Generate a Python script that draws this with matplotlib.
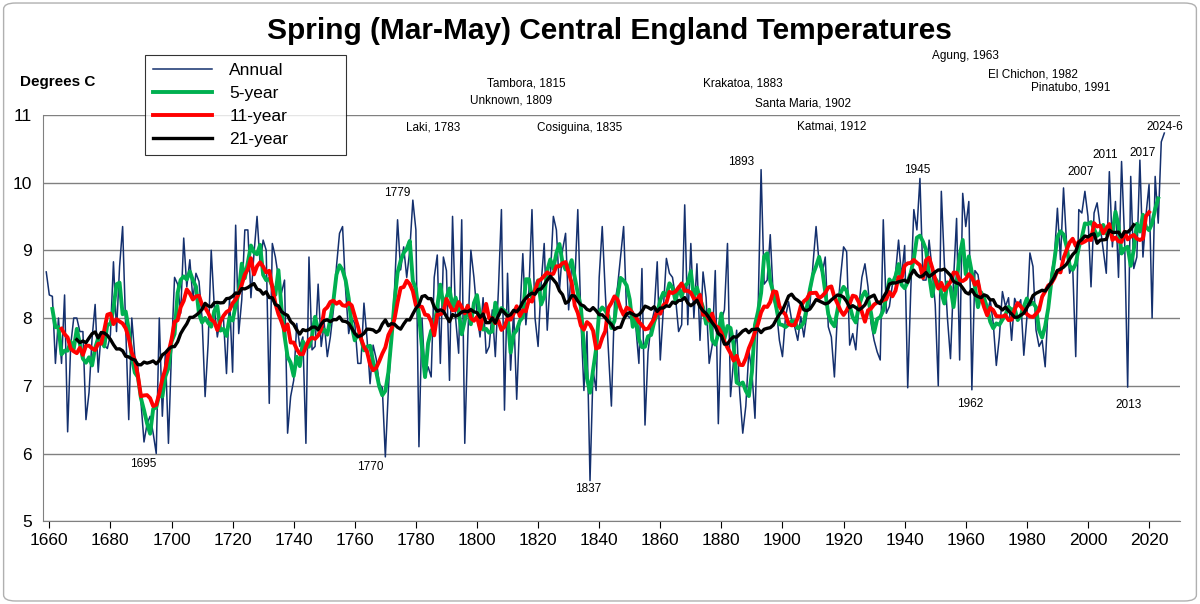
import numpy as np
import pandas as pd
import matplotlib.pyplot as plt
from matplotlib.patches import FancyBboxPatch

# Annual spring (Mar-May) CET values, 1659-2025
#-----------------------------------------------------------------------------#
years = np.arange(1659, 2026)
annual = [
    8.68, 8.34, 8.32, 7.33, 8.00, 7.33, 8.34, 6.32, 7.60, 8.00,
    8.00, 7.80, 7.80, 6.50, 6.90, 7.70, 8.20, 7.20, 7.80, 7.60,
    7.55, 7.75, 8.83, 7.80, 8.76, 9.35, 7.87, 6.50, 8.00, 7.43,
    7.28, 6.76, 6.17, 6.44, 6.55, 6.30, 6.00, 8.00, 6.55, 7.50,
    6.15, 7.50, 8.60, 8.50, 8.07, 9.18, 8.46, 8.86, 8.27, 8.66,
    8.54, 8.00, 6.84, 7.63, 9.00, 8.17, 7.72, 8.00, 8.00, 7.18,
    8.30, 7.20, 9.37, 7.77, 8.27, 9.30, 9.30, 8.30, 8.95, 9.50,
    8.80, 9.15, 9.00, 6.74, 9.10, 8.90, 8.60, 8.37, 8.56, 6.30,
    6.84, 7.08, 7.92, 7.58, 7.72, 6.15, 8.90, 7.53, 7.58, 8.50,
    7.58, 7.92, 7.43, 7.72, 8.12, 8.76, 9.25, 9.35, 8.41, 7.77,
    8.00, 7.92, 7.33, 7.33, 8.22, 7.70, 7.03, 7.60, 7.40, 7.03,
    6.97, 5.95, 6.95, 7.72, 8.41, 9.45, 8.71, 9.05, 8.60, 9.00,
    9.74, 9.30, 6.10, 8.00, 7.13, 7.28, 7.13, 8.60, 8.93, 7.33,
    8.90, 8.70, 7.08, 9.50, 8.00, 7.48, 9.45, 6.15, 7.72, 9.00,
    8.60, 8.07, 7.72, 8.30, 7.48, 7.58, 8.12, 7.43, 8.40, 9.60,
    6.64, 8.66, 7.23, 8.12, 6.80, 8.00, 8.95, 7.90, 8.41, 9.60,
    8.00, 7.58, 8.50, 9.10, 7.82, 8.60, 9.50, 9.30, 8.41, 9.00,
    9.25, 8.12, 8.80, 8.50, 9.60, 8.00, 6.93, 7.80, 5.60, 7.23,
    6.93, 8.60, 9.35, 8.37, 7.53,
    6.70, 8.20, 8.46, 8.90, 9.35, 8.05, 8.00, 8.10, 7.87, 7.33,
    8.73, 6.42, 7.50, 7.90, 8.10, 8.83, 7.38, 8.12, 8.88, 8.66,
    8.60, 8.30, 7.80, 7.90, 9.67, 7.90, 9.10, 8.00, 8.80, 7.67,
    8.68, 8.30, 7.33, 7.60, 8.70, 6.44, 7.97, 8.12, 9.10, 6.84,
    7.38, 7.82, 6.90, 6.30, 6.70, 7.52, 7.20, 6.52, 8.07, 10.19,
    8.50, 8.56, 9.23, 8.30, 8.12, 7.67, 7.43, 8.02, 8.24, 7.97,
    7.87, 7.67, 8.02, 7.72, 8.07,
    8.20, 8.80, 9.35, 8.80, 8.66, 8.90, 7.87, 7.72, 7.13, 8.07,
    8.60, 9.05, 8.98, 7.60, 7.77, 7.53, 8.17, 8.60, 8.80, 8.46,
    7.92, 7.67, 7.50, 7.38, 9.45, 8.07, 8.17, 8.50, 8.66, 9.15,
    8.60, 9.07, 6.97, 8.41, 9.60, 9.30, 10.06, 8.56, 8.56, 9.15,
    8.70, 8.20, 7.00, 9.87, 8.80, 8.00, 7.40, 8.56, 9.47, 7.38,
    9.84, 9.35, 9.72, 6.94, 8.70, 8.64, 8.32, 8.20, 8.04, 8.27,
    7.92, 7.30, 7.72,
    8.39, 8.17, 8.30, 7.67, 8.29, 8.17, 8.27, 7.45, 8.00, 8.96,
    8.76, 7.82, 7.58, 7.67, 7.28, 8.21, 8.66, 8.90, 9.62, 8.86,
    9.92, 9.10, 8.66, 8.76, 7.43, 9.60, 9.55, 9.87, 9.50, 8.46,
    9.55, 9.70, 9.35, 9.00, 8.66, 10.16, 9.05, 9.72, 8.60, 10.31,
    9.15, 6.98, 10.09, 8.73, 8.90, 10.33, 8.90, 9.52, 9.97, 8.00,
    10.09, 9.40, 10.60, 10.73,
]
assert len(annual) == len(years)

# Running means (centred) of the annual series
#-----------------------------------------------------------------------------#
s    = pd.Series(annual, index=years)
ma5  = s.rolling(5,  center=True).mean()
ma11 = s.rolling(11, center=True).mean()
ma21 = s.rolling(21, center=True).mean()

# Annotations
#-----------------------------------------------------------------------------#
volcano_labels = ['Tambora, 1815', 'Unknown, 1809', 'Laki, 1783', 'Cosiguina, 1835',
                  'Krakatoa, 1883', 'Santa Maria, 1902', 'Katmai, 1912',
                  'Agung, 1963', 'El Chichon, 1982', 'Pinatubo, 1991']
volcano_x = [1816, 1811, 1785.7, 1833.5, 1887, 1906.8, 1916, 1960, 1982, 1994.5]
volcano_y = [11.46, 11.21, 10.81, 10.81, 11.46, 11.16, 10.82, 11.86, 11.60, 11.40]
year_labels = ['1695', '1770', '1779', '1837', '1893', '1945', '1962',
               '2007', '2011', '2017', '2013', '2024-6']
year_x = [1690.8, 1765, 1773.9, 1836.4, 1886.5, 1944, 1961.5, 1997.5, 2005.7, 2017.8, 2013.2, 2025]
year_y = [5.85, 5.80, 9.85, 5.48, 10.30, 10.19, 6.73, 10.15, 10.40, 10.44, 6.72, 10.82]

# Figure
#-----------------------------------------------------------------------------#
plt.rcParams['font.family'] = ['Liberation Sans', 'DejaVu Sans']
fig = plt.figure(figsize=(12, 6.04), dpi=100)
fig.patches.append(FancyBboxPatch((0.003, 0.005), 0.994, 0.99, boxstyle='round,pad=0,rounding_size=0.01',
                                  transform=fig.transFigure, fill=False, edgecolor='#b0b0b0', lw=1))
ax = fig.add_axes([0.036, 0.137, 0.947, 0.673])

ax.plot(years, annual, color='#14306e', lw=1.1, label='Annual')
ax.plot(years, ma5, color='#00b050', lw=2.8, label='5-year')
ax.plot(years, ma11, color='#ff0000', lw=2.8, label='11-year')
ax.plot(years, ma21, color='#000000', lw=2.4, label='21-year')

ax.set_xlim(1658, 2030)
ax.set_ylim(5, 11)
ax.set_xticks(np.arange(1660, 2021, 20))
ax.set_yticks(np.arange(5, 12, 1))
ax.tick_params(axis='x', labelsize=12.5, length=5, direction='out')
ax.tick_params(axis='y', labelsize=12.5, length=0, pad=8)
ax.grid(True, axis='y', color='#808080', lw=1)
ax.set_axisbelow(True)
for sp in ['top', 'right']:
    ax.spines[sp].set_visible(False)
ax.spines['left'].set_color('#808080')
ax.spines['bottom'].set_color('#808080')

for lab, x, y in zip(volcano_labels, volcano_x, volcano_y):
    ax.text(x, y, lab, fontsize=8.5, ha='center', va='center', clip_on=False)
for lab, x, y in zip(year_labels, year_x, year_y):
    ax.text(x, y, lab, fontsize=8.5, ha='center', va='center', clip_on=False)

fig.text(0.508, 0.948, 'Spring (Mar-May) Central England Temperatures',
         fontsize=21.5, fontweight='bold', ha='center', va='center')
fig.text(0.017, 0.864, 'Degrees C', fontsize=11, fontweight='bold', ha='left', va='center')

leg = ax.legend(loc='upper left', bbox_to_anchor=(145/1200, 1-162/604, 201/1200, 107/604),
                bbox_transform=fig.transFigure, mode='expand',
                fontsize=12.5, frameon=True, fancybox=False, borderpad=0.45, labelspacing=0.45,
                handlelength=3.4, handletextpad=1.0, borderaxespad=0)
leg.get_frame().set_edgecolor('#000000')
leg.get_frame().set_linewidth(0.8)

fig.savefig('out.png', dpi=100)
